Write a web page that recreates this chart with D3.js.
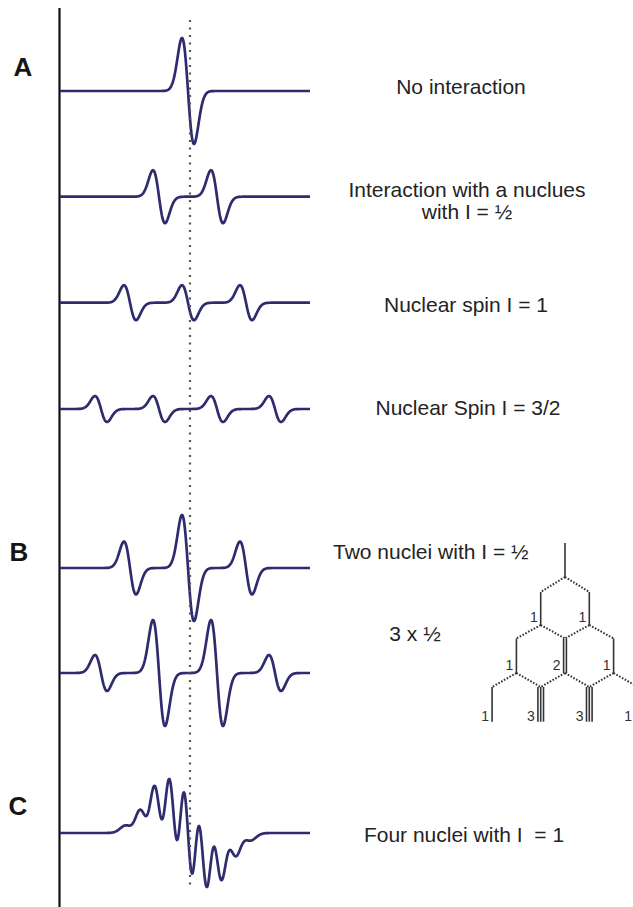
<!DOCTYPE html>
<html>
<head>
<meta charset="utf-8">
<script src="https://cdn.jsdelivr.net/npm/d3@7/dist/d3.min.js"></script>
<style>
  html, body { margin: 0; padding: 0; background: #fff; }
  svg { display: block; }
</style>
</head>
<body>
<svg id="chart" width="633" height="907"></svg>
<script>
// ---------------- DATA ----------------
// Stick spectra: line offsets (field units, 0 = centre) and relative intensities
const offsetsNone = [0];
const intensNone = [1];
const offsetsHalf = [-29, 29];
const intensHalf = [0.5, 0.5];
const offsetsOne = [-58, 0, 58];
const intensOne = [0.33, 0.33, 0.33];
const offsetsThreeHalf = [-87, -29, 29, 87];
const intensThreeHalf = [0.245, 0.245, 0.245, 0.245];
const offsetsTwoHalf = [-58, 0, 58];
const intensTwoHalf = [0.5, 1, 0.5];
const offsetsThreeXHalf = [-87, -29, 29, 87];
const intensThreeXHalf = [0.34, 1, 1, 0.34];
const offsetsFourOne = [-57.2, -42.9, -28.6, -14.3, 0, 14.3, 28.6, 42.9, 57.2];
const intensFourOne = [1, 4, 10, 16, 19, 16, 10, 4, 1];

const rowLabels = [
  ["No interaction"],
  ["Interaction with a nuclues", "with I = \u00BD"],
  ["Nuclear spin I = 1"],
  ["Nuclear Spin I = 3/2"],
  ["Two nuclei with I = \u00BD"],
  ["3 x \u00BD"],
  ["Four nuclei with I  = 1"]
];
const sectionLetters = ["A", "B", "C"];

// Splitting tree (Pascal triangle for 3 x I=1/2)
const treeLevels = [[1], [1, 1], [1, 2, 1], [1, 3, 3, 1]];

// ---------------- LAYOUT ----------------
const W = 633, H = 907;
const svg = d3.select("#chart");
const traceColor = "#2e2c6e";
const fieldDomain = [-128, 122];
const x = d3.scaleLinear().domain(fieldDomain).range([60, 310]);
const rowBase = [91, 196.7, 302.7, 409, 568, 673, 833];
const rowSigma = [6, 6, 6, 6, 6, 6, 6.3];
const unitPx = 53;

function deriv(u, sigma) { // normalised first-derivative Gaussian, +1 at u=-sigma
  const t = u / sigma;
  return -t * Math.exp(0.5 - t * t / 2);
}
const samples = d3.range(fieldDomain[0], fieldDomain[1] + 0.001, 0.5);
function spectrum(offs, ints, sigma) {
  return samples.map(f => [f, d3.sum(offs, (o, i) => ints[i] * deriv(f - o, sigma))]);
}

const spectra = [
  spectrum(offsetsNone, intensNone, rowSigma[0]),
  spectrum(offsetsHalf, intensHalf, rowSigma[1]),
  spectrum(offsetsOne, intensOne, rowSigma[2]),
  spectrum(offsetsThreeHalf, intensThreeHalf, rowSigma[3]),
  spectrum(offsetsTwoHalf, intensTwoHalf, rowSigma[4]),
  spectrum(offsetsThreeXHalf, intensThreeXHalf, rowSigma[5]),
  spectrum(offsetsFourOne, intensFourOne, rowSigma[6])
];

// vertical axis line
svg.append("line")
  .attr("x1", 59.5).attr("x2", 59.5).attr("y1", 8).attr("y2", H)
  .attr("stroke", "#111").attr("stroke-width", 2.2);

spectra.forEach((data, i) => {
  let y;
  if (i === 6) {
    const m = d3.max(data, d => Math.abs(d[1]));
    y = d3.scaleLinear().domain([-m, m]).range([rowBase[i] + 54, rowBase[i] - 54]);
  } else {
    y = d3.scaleLinear().domain([-1, 1]).range([rowBase[i] + unitPx, rowBase[i] - unitPx]);
  }
  const line = d3.line().x(d => x(d[0])).y(d => y(d[1])).curve(d3.curveLinear);
  svg.append("path").datum(data)
    .attr("d", line)
    .attr("fill", "none")
    .attr("stroke", traceColor)
    .attr("stroke-width", 2.7)
    .attr("stroke-linejoin", "round");
});

// dotted centre line
svg.append("line")
  .attr("x1", x(2)).attr("x2", x(2)).attr("y1", 20).attr("y2", 886)
  .attr("stroke", "#555").attr("stroke-width", 2.2)
  .attr("stroke-dasharray", "2,5.5");

// section letters
const letterPos = [[23, 76], [19, 561], [18, 815]];
sectionLetters.forEach((s, i) => {
  svg.append("text")
    .attr("x", letterPos[i][0]).attr("y", letterPos[i][1])
    .attr("text-anchor", "middle")
    .attr("font-family", "'Liberation Sans', Arial, sans-serif")
    .attr("font-weight", "bold").attr("font-size", 26)
    .attr("fill", "#151515")
    .text(s);
});

// row labels
const labelPos = [
  [461, 94, "middle"], [467, 197.3, "middle"], [466, 311.5, "middle"],
  [468, 415, "middle"], [333, 559, "start"], [415, 641, "middle"], [464, 841.5, "middle"]
];
rowLabels.forEach((lines, i) => {
  const t = svg.append("text")
    .attr("x", labelPos[i][0]).attr("y", labelPos[i][1])
    .attr("text-anchor", labelPos[i][2])
    .attr("font-family", "'Liberation Sans', Arial, sans-serif")
    .attr("font-size", 21)
    .attr("fill", "#232323")
    .style("white-space", "pre");
  lines.forEach((s, j) => {
    t.append("tspan").attr("x", labelPos[i][0]).attr("dy", j === 0 ? 0 : 22).text(s);
  });
});

// ---------------- SPLITTING TREE ----------------
const tx = d3.scaleLinear().domain([0, 1]).range([565, 589.3]); // half-step units
const levelTop = [543, 592, 638.5, 687];
const levelBot = [577, 625, 673, 721.7];
const treeColor = "#333";
const g = svg.append("g");
treeLevels.forEach((lev, L) => {
  const n = lev.length;
  lev.forEach((mult, k) => {
    const pos = 2 * k - (n - 1); // half-step units
    const cx = tx(pos);
    const offs = d3.range(mult).map(m => (m - (mult - 1) / 2) * 2.8);
    offs.forEach(o => {
      g.append("line")
        .attr("x1", cx + o).attr("x2", cx + o)
        .attr("y1", levelTop[L]).attr("y2", levelBot[L])
        .attr("stroke", treeColor).attr("stroke-width", 1.6);
    });
    if (L > 0) {
      const lx = Math.min(cx + d3.min(offs) - 3, W - 1);
      g.append("text")
        .attr("x", lx).attr("y", levelBot[L] - (L === 3 ? 1 : 3))
        .attr("text-anchor", "end")
        .attr("font-family", "'Liberation Sans', Arial, sans-serif")
        .attr("font-size", 14).attr("fill", "#333")
        .text(mult);
    }
    if (L < treeLevels.length - 1) {
      [-1, 1].forEach(dir => {
        g.append("line")
          .attr("x1", cx).attr("y1", levelBot[L])
          .attr("x2", tx(pos + dir)).attr("y2", levelTop[L + 1])
          .attr("stroke", treeColor).attr("stroke-width", 2)
          .attr("stroke-dasharray", "1.6,1.6");
      });
    }
  });
});
</script>
</body>
</html>
